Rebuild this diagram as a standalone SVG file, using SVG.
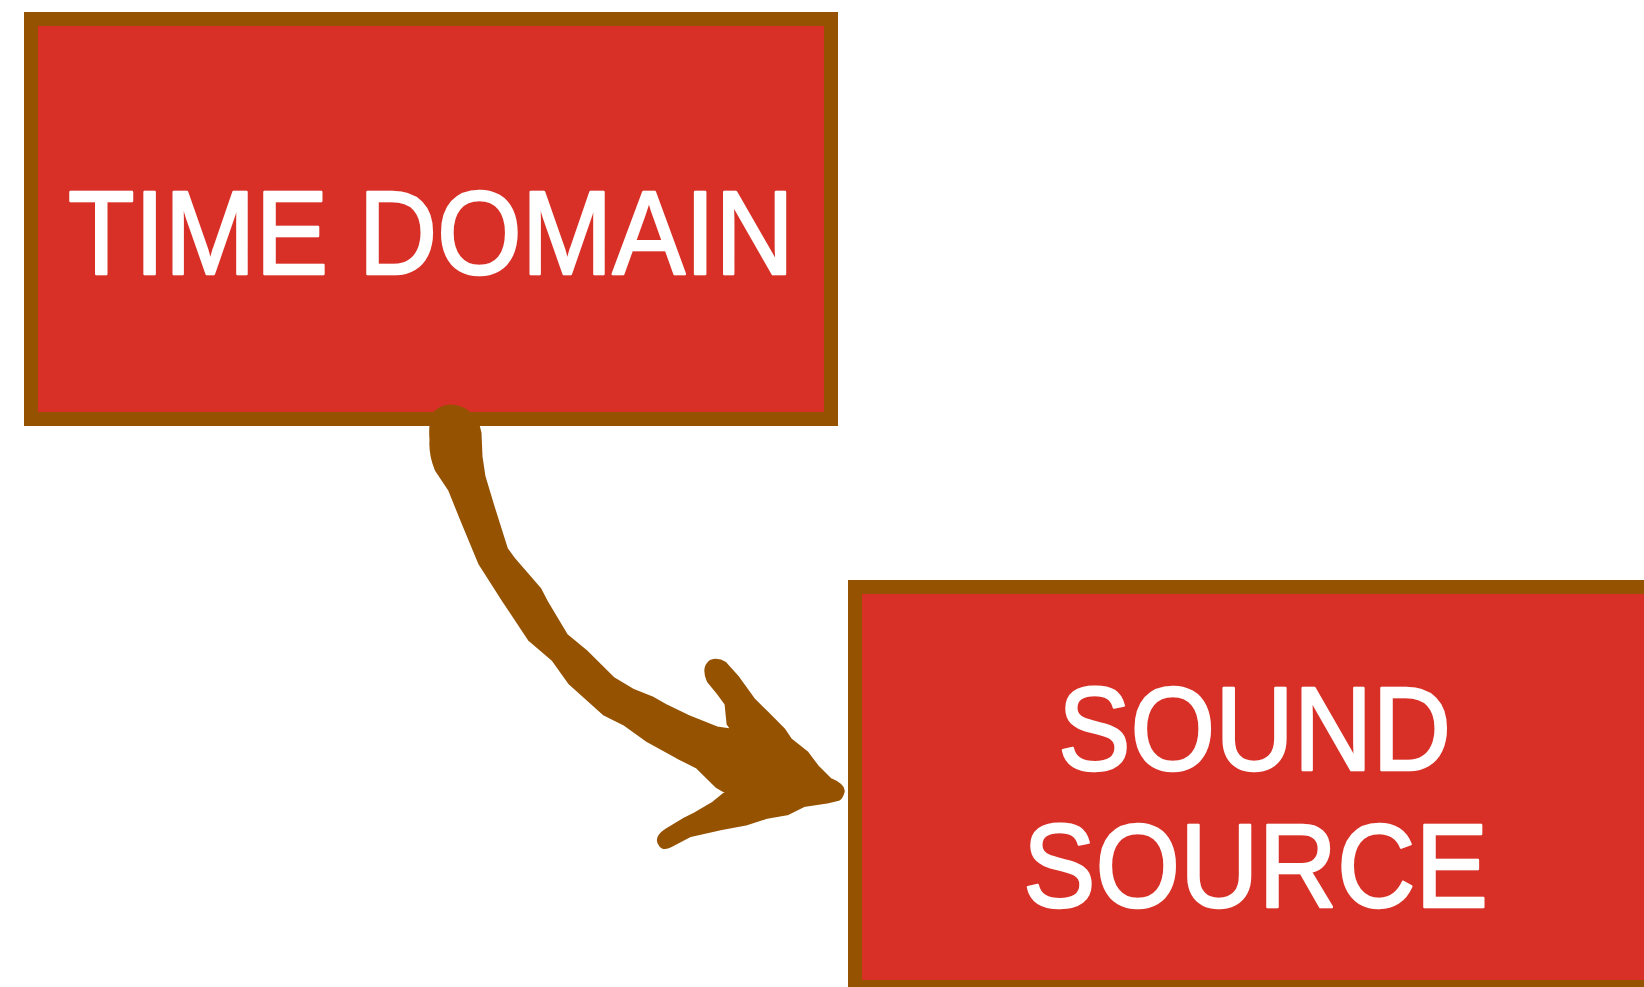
<svg xmlns="http://www.w3.org/2000/svg" width="1644" height="987" viewBox="0 0 1644 987">
<style>
.box{fill:#D83027;stroke:#955200;stroke-width:14}
.lbl{fill:#FFFFFF;stroke:#FFFFFF;stroke-width:2.5;stroke-linejoin:round;font-family:"Liberation Sans","DejaVu Sans",sans-serif;font-size:118px}
.arrow{fill:#955200;stroke:#955200;stroke-width:7;stroke-linejoin:round}
</style>
<rect width="1644" height="987" fill="#FFFFFF"/>
<g id="node-time-domain">
<rect class="box" x="31" y="19" width="800" height="400"/>
<text class="lbl" x="68" y="274" textLength="726" lengthAdjust="spacingAndGlyphs">TIME DOMAIN</text>
</g>
<g id="node-sound-source">
<rect class="box" x="855" y="587" width="800" height="400"/>
<text class="lbl" x="1058" y="770" textLength="393" lengthAdjust="spacingAndGlyphs">SOUND</text>
<text class="lbl" x="1023" y="907" textLength="465" lengthAdjust="spacingAndGlyphs">SOURCE</text>
</g>
<g id="connectors">
<path class="arrow" d="M434,418 Q438,409 450,408 Q462,409 467,414 Q476,421 478,433 L479,456.7 L482,476.7 L491,506.7 L504.7,550 L512,560 L538,590 L545,603.3 L565,636.7 L585,653.3 L612,680 L632,692 L652,700 L666,708 L686.7,718 L716.7,730 L737,733 L730,723.3 L728,703.3 L719,691 L710,680 Q705,668 711.7,663 Q718,661 724,665 L735.7,678 L752.3,701 L765.7,714.3 L782.3,731 L789,741 L805.7,754.3 L815.7,767.7 L829,781 Q843,787 841,792 Q840,796 838,797.3 L826.7,800 L803.3,803.5 L786.7,811.8 L766.7,815.2 L746.7,821.8 L720,826.8 L690,833.5 L670,844 Q664,847 662,844 Q657,838 667.7,831.5 L684.3,821.5 L694.3,816.5 L714.3,804.8 L730,792 L718,785 L698,765.3 L678,755.3 L648,738.7 L624.7,722 L604.7,712 L571.3,682 L554.7,658.7 L531.3,638.7 L504.7,598.7 L481.3,562 L464.7,522 L451.3,488.7 L438,468.7 Q432,454 433,440 Q432,426 434,418 Z"/>
</g>
</svg>
